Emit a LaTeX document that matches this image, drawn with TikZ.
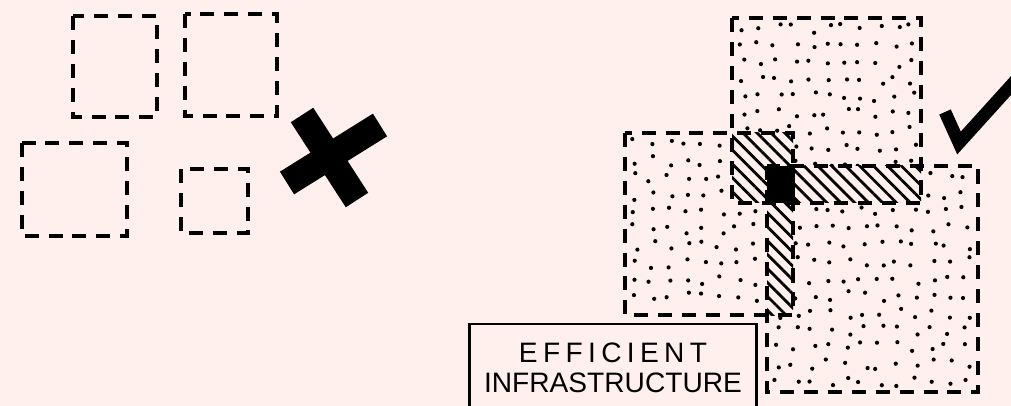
\documentclass[tikz,border=0pt]{standalone}
\usepackage{fontspec}
\setmainfont{Liberation Sans}
\usepackage{tikz}
\usetikzlibrary{patterns.meta,positioning,calc}
\definecolor{paper}{RGB}{255,240,238}

\begin{document}
\begin{tikzpicture}[x=0.025cm,y=-0.025cm,dashbox/.style={draw,line width=2.2pt,dash pattern=on 10pt off 7pt},hatch/.style={preaction={fill=paper},pattern={Lines[angle=-45,distance=7pt,line width=2pt]}},speck/.style={fill=black},labelbox/.style={draw,line width=2pt,align=center,minimum width=7.175cm,minimum height=2.2cm,inner sep=2pt,font=\fontsize{20}{21}\selectfont}]
\useasboundingbox (0,0) rectangle (1011,406);
\clip (0,0) rectangle (1011,406);
\fill[paper] (0,0) rectangle (1011,406);
\draw[dashbox] (73,16) rectangle (157,117);
\draw[dashbox] (185,14) rectangle (277,116);
\draw[dashbox] (22,143) rectangle (127,236);
\draw[dashbox] (181,169) rectangle (248,233);
\draw[line width=19pt] (302,115) -- (357,200);
\draw[line width=19pt] (380,125) -- (287,183);
\pgfmathsetseed{11}
\foreach \i in {0,...,10} {\foreach \j in {0,...,10} {\fill[speck] (738+\i*17+rnd*10,24+\j*17+rnd*9) circle (2.1);}}
\foreach \i in {0,...,9} {\foreach \j in {0,...,9} {\fill[speck] (631+\i*17+rnd*8,139+\j*17+rnd*10) circle (2.1);}}
\foreach \i in {0,...,11} {\foreach \j in {0,...,12} {\fill[speck] (773+\i*17+rnd*10,172+\j*17+rnd*10) circle (2.1);}}
\path[hatch] (732,133) rectangle (793,203);
\path[hatch] (767,166) rectangle (921,203);
\path[hatch] (767,166) rectangle (793,315);
\fill (767,166) rectangle (795,203);
\draw[dashbox] (732,18) rectangle (921,203);
\draw[dashbox] (625,133) rectangle (793,315);
\draw[dashbox] (767,166) rectangle (978,392);
\draw[line width=9pt,miter limit=4] (945,112) -- (959,143) -- (1016,80);
\node[labelbox] (infra) at (613,368) {{\addfontfeature{LetterSpace=19}EFFICIENT}\\INFRASTRUCTURE};
\end{tikzpicture}
\end{document}
